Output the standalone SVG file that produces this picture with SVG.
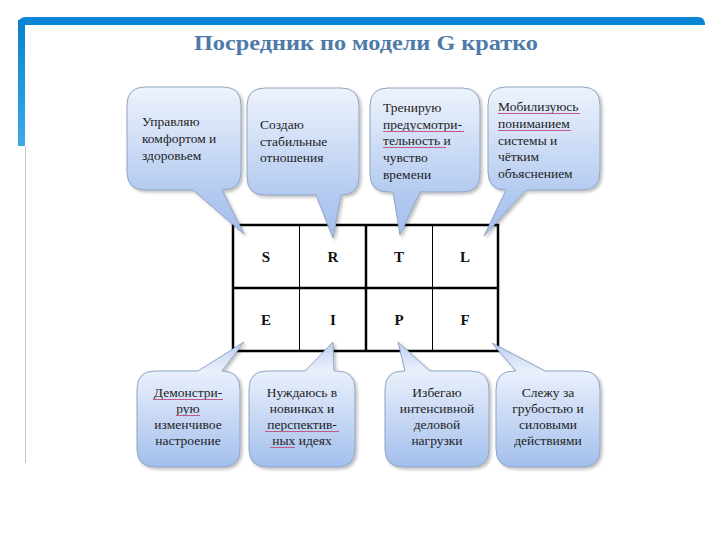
<svg xmlns="http://www.w3.org/2000/svg" width="720" height="540" viewBox="0 0 720 540">
<defs>
<linearGradient id="gTop" x1="0" y1="0" x2="0" y2="1">
<stop offset="0" stop-color="#eef3fc"/>
<stop offset="0.7" stop-color="#b4cbf0"/>
<stop offset="1" stop-color="#a3bfee"/>
</linearGradient>
<linearGradient id="gBot" x1="0" y1="0" x2="0" y2="1">
<stop offset="0" stop-color="#bcd0f2"/>
<stop offset="0.23" stop-color="#eaf0fb"/>
<stop offset="1" stop-color="#a3bfed"/>
</linearGradient>
<linearGradient id="gLeft" x1="0" y1="0" x2="0" y2="1">
<stop offset="0" stop-color="#0a80d0"/>
<stop offset="1" stop-color="#3aaae8"/>
</linearGradient>
<filter id="sh" x="-10%" y="-10%" width="130%" height="130%">
<feDropShadow dx="2" dy="2" stdDeviation="1.5" flood-color="#000" flood-opacity="0.25"/>
</filter>
</defs>
<style>
.title{font-family:"Liberation Serif","DejaVu Serif",serif;font-weight:bold;font-size:22px;fill:#4d7aa9}
.ct{stroke:#8fa3c2;stroke-width:1;filter:url(#sh)}
.top{fill:url(#gTop)}
.bot{fill:url(#gBot)}
.t{font-family:"Liberation Serif","DejaVu Serif",serif;font-size:13.5px;fill:#1e1e1e}
.c{text-anchor:middle}
.L{font-family:"Liberation Serif","DejaVu Serif",serif;font-size:15px;font-weight:bold;fill:#111;text-anchor:middle}
.thick{stroke:#000;stroke-width:2.5;fill:none}
.thin{stroke:#000;stroke-width:1;fill:none}
.sp{stroke:#c25a86;stroke-width:1;fill:none}
</style>
<rect width="720" height="540" fill="#fff"/>
<g id="frame">
<path d="M18,25 Q18,17 26,17 H698 Q705,17 705,25 Z" fill="#0a86d6"/>
<rect x="18" y="20" width="7" height="126" fill="url(#gLeft)"/>
<line x1="25.5" y1="146" x2="25.5" y2="463" stroke="#c8c8c8" stroke-width="1"/>
</g>
<text class="title" x="366" y="50" text-anchor="middle" textLength="344" lengthAdjust="spacingAndGlyphs">Посредник по модели G кратко</text>
<g id="table">
<rect x="233" y="225" width="265" height="126" class="thick"/>
<line x1="233" y1="288" x2="498" y2="288" class="thick"/>
<line x1="366" y1="225" x2="366" y2="351" class="thick"/>
<line x1="299.5" y1="225" x2="299.5" y2="351" class="thin"/>
<line x1="432.5" y1="225" x2="432.5" y2="351" class="thin"/>
<text class="L" x="266" y="262">S</text>
<text class="L" x="333" y="262">R</text>
<text class="L" x="399" y="262">T</text>
<text class="L" x="465" y="262">L</text>
<text class="L" x="266" y="325">E</text>
<text class="L" x="333" y="325">I</text>
<text class="L" x="399" y="325">P</text>
<text class="L" x="465" y="325">F</text>
</g>
<g id="callouts">
<g id="c1">
<path class="ct top" d="M145,87 H223 Q241,87 241,105 V172 Q241,190 223,190 H222 L244,234 L193,190 H145 Q127,190 127,172 V105 Q127,87 145,87 Z"/>
<text class="t" x="142" y="126">Управляю</text>
<text class="t" x="142" y="143">комфортом и</text>
<text class="t" x="142" y="160">здоровьем</text>
</g>
<g id="c2">
<path class="ct top" d="M265,88 H341 Q359,88 359,106 V177 Q359,195 341,195 L333,238 L316,195 H265 Q247,195 247,177 V106 Q247,88 265,88 Z"/>
<text class="t" x="260" y="129">Создаю</text>
<text class="t" x="260" y="146">стабильные</text>
<text class="t" x="260" y="162">отношения</text>
</g>
<g id="c3">
<path class="ct top" d="M388,88 H462 Q480,88 480,106 V174 Q480,192 462,192 H420 L400,235 L393,192 H388 Q370,192 370,174 V106 Q370,88 388,88 Z"/>
<text class="t" x="383" y="112">Тренирую</text>
<text class="t" x="383" y="129">предусмотри-</text>
<text class="t" x="383" y="145">тельность и</text>
<text class="t" x="383" y="162">чувство</text>
<text class="t" x="383" y="179">времени</text>
<path class="sp" d="M383,131.5 H464 M383,147.5 H446"/>
</g>
<g id="c4">
<path class="ct top" d="M506,87 H582 Q600,87 600,105 V172 Q600,190 582,190 H526 L484,236 L506,190 Q488,190 488,172 V105 Q488,87 506,87 Z"/>
<text class="t" x="498" y="111">Мобилизуюсь</text>
<text class="t" x="498" y="128">пониманием</text>
<text class="t" x="498" y="145">системы и</text>
<text class="t" x="498" y="161">чётким</text>
<text class="t" x="498" y="178">объяснением</text>
<path class="sp" d="M498,113.5 H580 M498,130.5 H571"/>
</g>
<g id="c5">
<path class="ct bot" d="M155,371 H198 L244,342 L222,371 Q240,371 240,389 V449 Q240,467 222,467 H155 Q137,467 137,449 V389 Q137,371 155,371 Z"/>
<text class="t c" x="188" y="397">Демонстри-</text>
<text class="t c" x="188" y="413">рую</text>
<text class="t c" x="188" y="429">изменчивое</text>
<text class="t c" x="188" y="445">настроение</text>
<path class="sp" d="M153,399.5 H223 M176,415.5 H200"/>
</g>
<g id="c6">
<path class="ct bot" d="M267,371 H305 L333,342 L334,371 H337 Q355,371 355,389 V449 Q355,467 337,467 H267 Q249,467 249,449 V389 Q249,371 267,371 Z"/>
<text class="t c" x="302" y="397">Нуждаюсь в</text>
<text class="t c" x="302" y="413">новинках и</text>
<text class="t c" x="302" y="429">перспектив-</text>
<text class="t c" x="302" y="445">ных идеях</text>
<path class="sp" d="M265,431.5 H339 M270,447.5 H295"/>
</g>
<g id="c7">
<path class="ct bot" d="M403,371 H405 L398,342 L430,371 H471 Q489,371 489,389 V449 Q489,467 471,467 H403 Q385,467 385,449 V389 Q385,371 403,371 Z"/>
<text class="t c" x="437" y="397">Избегаю</text>
<text class="t c" x="437" y="413">интенсивной</text>
<text class="t c" x="437" y="429">деловой</text>
<text class="t c" x="437" y="445">нагрузки</text>
</g>
<g id="c8">
<path class="ct bot" d="M514,371 H516 L492,343 L545,371 H582 Q600,371 600,389 V449 Q600,467 582,467 H514 Q496,467 496,449 V389 Q496,371 514,371 Z"/>
<text class="t c" x="548" y="397">Слежу за</text>
<text class="t c" x="548" y="413">грубостью и</text>
<text class="t c" x="548" y="429">силовыми</text>
<text class="t c" x="548" y="445">действиями</text>
</g>
</g>
</svg>
